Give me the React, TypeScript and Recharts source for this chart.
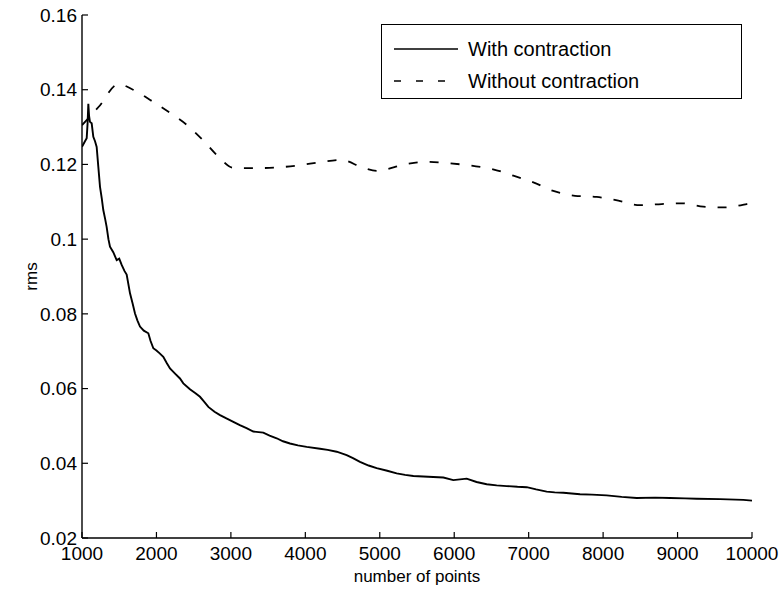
import React from "react";
import { LineChart, Line, XAxis, YAxis, Legend } from "recharts";

// number of points / rms
const withN = [
  1000, 1040, 1063, 1075, 1085, 1095, 1107, 1130, 1152, 1175, 1197, 1219, 1242, 1265, 1286, 1310, 1331,
  1355, 1376, 1420, 1466, 1500, 1533, 1570, 1600, 1645, 1680, 1712, 1745, 1779, 1830, 1891, 1920, 1958,
  2000, 2040, 2092, 2140, 2182, 2250, 2316, 2361, 2450, 2520, 2585, 2640, 2697, 2780, 2854, 2940, 3033,
  3120, 3210, 3301, 3435, 3520, 3615, 3700, 3794, 3900, 4018, 4197, 4300, 4421, 4555, 4640, 4734, 4850,
  4958, 5100, 5227, 5340, 5451, 5650, 5854, 5988, 6167, 6300, 6436, 6570, 6705, 6850, 6974, 7100, 7242,
  7350, 7466, 7690, 7850, 8048, 8250, 8451, 8700, 8898, 9100, 9257, 9570, 9884, 10000,
];
const withRms = [
  0.1247, 0.1262, 0.127, 0.131, 0.1362, 0.133, 0.1314, 0.131, 0.1274, 0.1262, 0.1247, 0.1194, 0.114,
  0.111, 0.1078, 0.1055, 0.1033, 0.1, 0.098, 0.0965, 0.0944, 0.0948, 0.0931, 0.0915, 0.0905, 0.0855,
  0.0828, 0.0801, 0.0782, 0.0766, 0.0755, 0.0748, 0.0728, 0.0708, 0.0702, 0.0695, 0.0685, 0.0668, 0.0654,
  0.064, 0.0627, 0.0614, 0.0598, 0.0588, 0.0578, 0.0565, 0.0551, 0.0538, 0.0529, 0.052, 0.0511, 0.0502,
  0.0494, 0.0485, 0.0482, 0.0474, 0.0467, 0.0459, 0.0453, 0.0448, 0.0444, 0.0439, 0.0436, 0.0431, 0.0422,
  0.0414, 0.0404, 0.0394, 0.0387, 0.038, 0.0373, 0.0369, 0.0366, 0.0364, 0.0362, 0.0355, 0.0359, 0.035,
  0.0344, 0.0341, 0.0339, 0.0337, 0.0336, 0.033, 0.0324, 0.0322, 0.0321, 0.0317, 0.0316, 0.0314, 0.031,
  0.0307, 0.0308, 0.0307, 0.0306, 0.0305, 0.0304, 0.0302, 0.03,
];

const withoutN = [
  1000, 1228, 1488, 1685, 1936, 2182, 2406, 2625, 2827, 3030, 3300, 3620, 3928, 4197, 4488, 4775, 4958,
  5361, 5630, 5943, 6253, 6521, 6794, 7063, 7331, 7623, 7914, 8205, 8496, 8787, 9056, 9346, 9615, 9929,
  10000,
];
const withoutRms = [
  0.1305, 0.1355, 0.1415, 0.14, 0.137, 0.1338, 0.1306, 0.1265, 0.1222, 0.1191, 0.119, 0.1192, 0.1198,
  0.1206, 0.1212, 0.1191, 0.1183, 0.1201, 0.1207, 0.1203, 0.1196, 0.1187, 0.117, 0.1152, 0.1129, 0.1116,
  0.1113, 0.1103, 0.1091, 0.1094, 0.1096, 0.1087, 0.1085, 0.1094, 0.1097,
];

const xTicks = [1000, 2000, 3000, 4000, 5000, 6000, 7000, 8000, 9000, 10000];
const yTicks = [0.02, 0.04, 0.06, 0.08, 0.1, 0.12, 0.14, 0.16];

const withData = withN.map((n, i) => ({ n, rms: withRms[i] }));
const withoutData = withoutN.map((n, i) => ({ n, rms: withoutRms[i] }));

const FONT = "'Liberation Sans', Arial, Helvetica, sans-serif";
const INK = "#000";

const legendItems = [
  { label: "With contraction", dash: undefined },
  { label: "Without contraction", dash: "7 15" },
];

const LegendBox = () => (
  <div
    style={{
      width: 361,
      height: 75,
      boxSizing: "border-box",
      border: `1.3px solid ${INK}`,
      background: "#fff",
      fontFamily: FONT,
      fontSize: 20,
      color: INK,
      paddingTop: 8,
    }}
  >
    {legendItems.map((it) => (
      <div key={it.label} style={{ display: "flex", alignItems: "center", height: 32 }}>
        <svg width={86} height={10}>
          <line x1={12} x2={76} y1={5} y2={5} stroke={INK} strokeWidth={1.4} strokeDasharray={it.dash} />
        </svg>
        <span>{it.label}</span>
      </div>
    ))}
  </div>
);

const tickStyle = { fontFamily: FONT, fontSize: 19, fill: INK };
const axisLine = { stroke: INK, strokeWidth: 1.4 };

export default function App() {
  return (
    <div style={{ position: "absolute", left: 0, top: 0, background: "#fff" }}>
      <LineChart width={783} height={590} margin={{ top: 15, right: 31, bottom: 0, left: 0 }}>
        <XAxis
          xAxisId="b"
          type="number"
          dataKey="n"
          domain={[1000, 10000]}
          ticks={xTicks}
          allowDataOverflow
          height={52}
          tickSize={-6}
          tickMargin={15}
          tick={tickStyle}
          axisLine={axisLine}
          tickLine={{ stroke: INK, strokeWidth: 1.2 }}
          interval={0}
          label={{
            value: "number of points",
            position: "insideBottom",
            offset: 8,
            style: { fontFamily: FONT, fontSize: 17, fill: INK },
          }}
        />
        <XAxis
          xAxisId="t"
          orientation="top"
          type="number"
          dataKey="n"
          domain={[1000, 10000]}
          ticks={xTicks}
          height={0}
          tickSize={-6}
          tick={false}
          axisLine={axisLine}
          tickLine={{ stroke: INK, strokeWidth: 1.2 }}
        />
        <YAxis
          yAxisId="l"
          type="number"
          domain={[0.02, 0.16]}
          ticks={yTicks}
          allowDataOverflow
          width={82}
          tickSize={-6}
          tickMargin={11}
          tick={tickStyle}
          interval={0}
          axisLine={axisLine}
          tickLine={{ stroke: INK, strokeWidth: 1.2 }}
          label={{
            value: "rms",
            angle: -90,
            position: "insideLeft",
            offset: 31,
            style: { fontFamily: FONT, fontSize: 17, fill: INK, textAnchor: "middle" },
          }}
        />
        <YAxis
          yAxisId="r"
          orientation="right"
          type="number"
          domain={[0.02, 0.16]}
          ticks={yTicks}
          width={0}
          tickSize={-6}
          tick={false}
          axisLine={axisLine}
          tickLine={{ stroke: INK, strokeWidth: 1.2 }}
        />
        <Legend
          layout="vertical"
          align="center"
          verticalAlign="middle"
          content={() => <LegendBox />}
          wrapperStyle={{ left: 381, top: 24, width: 361, height: 75 }}
        />
        <Line
          xAxisId="b"
          yAxisId="l"
          data={withoutData}
          dataKey="rms"
          name="Without contraction"
          type="monotone"
          stroke={INK}
          strokeWidth={1.8}
          strokeDasharray="9 12"
          dot={false}
          isAnimationActive={false}
        />
        <Line
          xAxisId="b"
          yAxisId="l"
          data={withData}
          dataKey="rms"
          name="With contraction"
          type="linear"
          stroke={INK}
          strokeWidth={1.9}
          dot={false}
          isAnimationActive={false}
        />
      </LineChart>
    </div>
  );
}
